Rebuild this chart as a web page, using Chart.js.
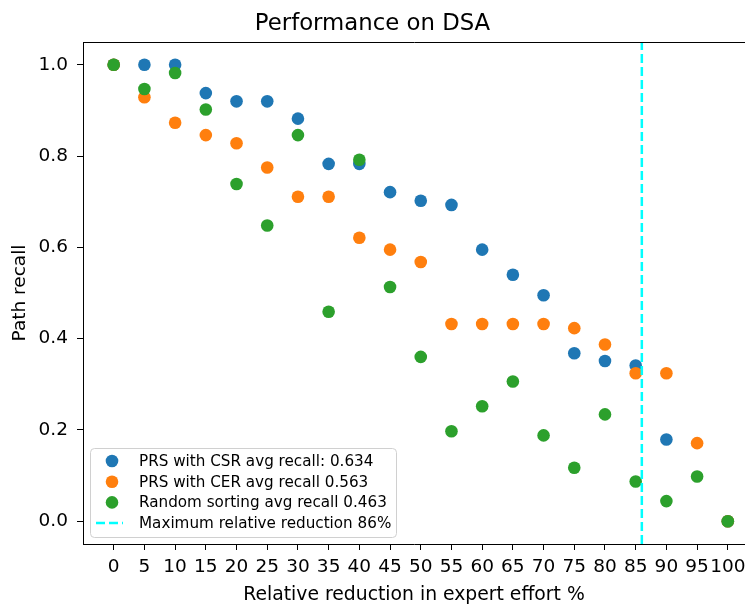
<!DOCTYPE html>
<html>
<head>
<meta charset="utf-8">
<script src="https://cdn.jsdelivr.net/npm/chart.js@4/dist/chart.umd.min.js"></script>
<style>
  body { margin: 0; background: #fff; }
  canvas { display: block; }
</style>
</head>
<body>
<canvas id="grafico" width="745" height="604"></canvas>
<script>
const reduction = [0, 5, 10, 15, 20, 25, 30, 35, 40, 45, 50, 55, 60, 65, 70, 75, 80, 85, 90, 95, 100]
const csrRecall = [1.0, 1.0, 1.0, 0.938, 0.920, 0.920, 0.882, 0.783, 0.783, 0.721, 0.702, 0.693, 0.595, 0.540, 0.495, 0.368, 0.351, 0.341, 0.179, null, 0.0]
const cerRecall = [1.0, 0.929, 0.873, 0.846, 0.828, 0.775, 0.711, 0.711, 0.621, 0.595, 0.568, 0.432, 0.432, 0.432, 0.432, 0.423, 0.387, 0.324, 0.324, 0.171, 0.0]
const randomRecall = [1.0, 0.947, 0.982, 0.902, 0.739, 0.648, 0.846, 0.459, 0.792, 0.513, 0.360, 0.197, 0.252, 0.306, 0.188, 0.117, 0.234, 0.087, 0.044, 0.098, 0.0]
const maxReduction = 86
const xTicks = [0, 5, 10, 15, 20, 25, 30, 35, 40, 45, 50, 55, 60, 65, 70, 75, 80, 85, 90, 95, 100]
const yTicks = [0, 0.2, 0.4, 0.6, 0.8, 1.0]
const yMin = -0.05, yMax = 1.05

const fonte = 'DejaVu Sans'

function pontos(valores) {
    return reduction.map((x, i) => ({ x: x, y: valores[i] })).filter(p => p.y !== null)
}

// frame top edge + legend inside the plot, like matplotlib
const extras = {
    id: 'extras',
    afterDraw(chart) {
        const ctx = chart.ctx
        const area = chart.chartArea
        ctx.save()
        ctx.strokeStyle = '#000'
        ctx.lineWidth = 1
        ctx.beginPath()
        ctx.moveTo(area.left, area.top + 0.5)
        ctx.lineTo(area.right + 2, area.top + 0.5)
        ctx.stroke()

        // legend box
        const bx = 90.5, by = 448.5, bw = 306, bh = 89
        ctx.fillStyle = 'rgba(255,255,255,0.8)'
        ctx.strokeStyle = '#d0d0d0'
        ctx.beginPath()
        ctx.roundRect(bx, by, bw, bh, 4)
        ctx.fill()
        ctx.stroke()

        ctx.font = '15.2px "' + fonte + '"'
        ctx.textBaseline = 'middle'
        ctx.textAlign = 'left'
        chart.data.datasets.forEach((ds, i) => {
            const y = 461 + i * 20.7
            if (ds.showLine) {
                ctx.strokeStyle = ds.borderColor
                ctx.lineWidth = ds.borderWidth
                ctx.setLineDash(ds.borderDash)
                ctx.beginPath()
                ctx.moveTo(96, y)
                ctx.lineTo(123, y)
                ctx.stroke()
                ctx.setLineDash([])
            } else {
                ctx.fillStyle = ds.backgroundColor
                ctx.beginPath()
                ctx.arc(112, y, 6.3, 0, Math.PI * 2)
                ctx.fill()
            }
            ctx.fillStyle = '#000'
            ctx.fillText(ds.label, 139, y + 1)
        })
        ctx.restore()
    }
}

window.onload = () => {
    let contexto = document.getElementById('grafico').getContext('2d')

    let grafico = new Chart(contexto, {
        type: 'scatter',
        data: {
            datasets: [{
                label: 'PRS with CSR avg recall: 0.634',
                data: pontos(csrRecall),
                backgroundColor: '#1f77b4',
                borderWidth: 0,
                pointRadius: 6.3,
                order: 4
            }, {
                label: 'PRS with CER avg recall 0.563',
                data: pontos(cerRecall),
                backgroundColor: '#ff7f0e',
                borderWidth: 0,
                pointRadius: 6.3,
                order: 3
            }, {
                label: 'Random sorting avg recall 0.463',
                data: pontos(randomRecall),
                backgroundColor: '#2ca02c',
                borderWidth: 0,
                pointRadius: 6.3,
                order: 2
            }, {
                label: 'Maximum relative reduction ' + maxReduction + '%',
                data: [{ x: maxReduction, y: yMin }, { x: maxReduction, y: yMax }],
                showLine: true,
                borderColor: '#00ffff',
                backgroundColor: '#00ffff',
                borderWidth: 2.5,
                borderDash: [9, 4],
                pointRadius: 0,
                order: 1
            }]
        },
        options: {
            responsive: false,
            animation: false,
            devicePixelRatio: 1,
            layout: { padding: 0, autoPadding: false },
            plugins: {
                legend: { display: false },
                tooltip: { enabled: false },
                title: {
                    display: true,
                    text: 'Performance on DSA',
                    color: '#000',
                    font: { family: fonte, size: 22.8, weight: 'normal' },
                    padding: { top: 10, bottom: 4.64 }
                }
            },
            scales: {
                x: {
                    type: 'linear',
                    min: -5,
                    max: 102.8,
                    afterBuildTicks: s => { s.ticks = xTicks.map(v => ({ value: v })) },
                    afterFit: s => { s.height = 60; s.paddingRight = 0; s.paddingLeft = 0 },
                    grid: { drawOnChartArea: false, drawTicks: true, tickLength: 6, tickColor: '#000' },
                    border: { display: true, color: '#000', width: 1 },
                    ticks: {
                        autoSkip: false,
                        maxRotation: 0,
                        minRotation: 0,
                        padding: 6,
                        color: '#000',
                        font: { family: fonte, size: 18.5 },
                        callback: v => String(v)
                    },
                    title: {
                        display: true,
                        text: 'Relative reduction in expert effort %',
                        color: '#000',
                        font: { family: fonte, size: 18.8 },
                        padding: { top: 0, bottom: -2 }
                    }
                },
                y: {
                    type: 'linear',
                    min: yMin,
                    max: yMax,
                    afterBuildTicks: s => { s.ticks = yTicks.map(v => ({ value: v })) },
                    afterFit: s => { s.width = 83 },
                    grid: { drawOnChartArea: false, drawTicks: true, tickLength: 6, tickColor: '#000' },
                    border: { display: true, color: '#000', width: 1 },
                    ticks: {
                        padding: 9,
                        color: '#000',
                        font: { family: fonte, size: 18.5 },
                        callback: v => v.toFixed(1)
                    },
                    title: {
                        display: true,
                        text: 'Path recall',
                        color: '#000',
                        font: { family: fonte, size: 18.5 },
                        padding: { top: 9, bottom: 0 }
                    }
                }
            }
        },
        plugins: [extras]
    })
}
</script>
</body>
</html>
